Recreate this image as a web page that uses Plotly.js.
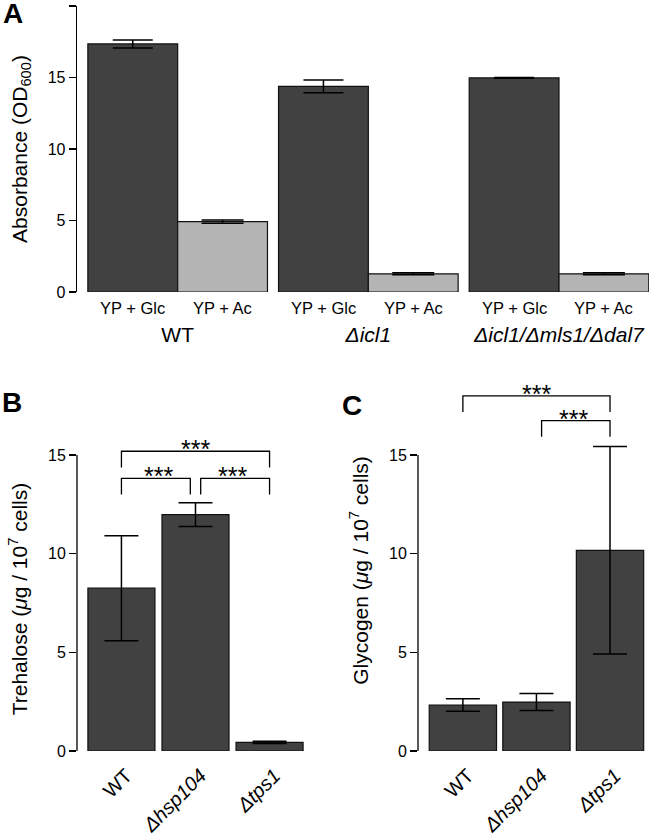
<!DOCTYPE html>
<html><head><meta charset="utf-8">
<script src="https://cdn.plot.ly/plotly-3.0.1.min.js"></script>
<style>html,body{margin:0;padding:0;background:#fff}</style>
</head><body><div id="chart" style="width:649px;height:835px"></div>
<script>
// ---------- Panel A data ----------
const strainsA = ['WT', 'Δicl1', 'Δicl1/Δmls1/Δdal7'];
const strainLabelsA = ['WT', '<i>Δicl1</i>', '<i>Δicl1/Δmls1/Δdal7</i>'];
const mediaA = ['YP + Glc', 'YP + Ac'];
const glcOD = [17.35, 14.38, 14.97];
const glcODErr = [0.28, 0.45, 0.03];
const acOD = [4.92, 1.27, 1.27];
const acODErr = [0.12, 0.07, 0.07];

// ---------- Panels B / C data ----------
const strainsBC = ['WT', 'Δhsp104', 'Δtps1'];
const strainLabelsBC = ['WT', '<i>Δhsp104</i>', '<i>Δtps1</i>'];
const trehalose = [8.25, 11.98, 0.44];
const trehaloseErr = [2.66, 0.60, 0.06];
const glycogen = [2.33, 2.48, 10.17];
const glycogenErr = [0.32, 0.43, 5.26];

// significance brackets: pairs of bar indices, bracket top value, label
const sigPairsB = [[0, 2], [0, 1], [1, 2]];
const sigTopB = [15.19, 13.82, 13.82];
const sigPairsC = [[0, 2], [1, 2]];
const sigTopC = [18.0, 16.74];
const sigLabel = '***';

// ---------- styles ----------
const FONT = 'Liberation Sans, Arial, Helvetica, sans-serif';
const DARK = '#414141', LIGHT = '#b4b4b4';
const idx = a => a.map((_, i) => i);

function bracketTrace(pairs, tops, xa, ya) {
  const drop = 0.82, inset = 0.07, x = [], y = [];
  pairs.forEach((p, k) => {
    let a = p[0], b = p[1];
    if (a === 1) a += inset;
    if (b === 1) b -= inset;
    x.push(a, a, b, b, null);
    y.push(tops[k] - drop, tops[k], tops[k], tops[k] - drop, null);
  });
  return {type: 'scatter', mode: 'lines', x, y, xaxis: xa, yaxis: ya,
    line: {color: 'black', width: 1.3}, hoverinfo: 'skip', showlegend: false};
}
function starAnns(pairs, tops, xa, ya) {
  return pairs.map((p, k) => ({
    x: (p[0] + p[1]) / 2, y: tops[k], xref: xa, yref: ya, text: sigLabel,
    showarrow: false, yanchor: 'bottom', yshift: -14, font: {size: 25, color: 'black', family: FONT}
  }));
}
const errStyle = (arr, w) => ({type: 'data', array: arr, visible: true, color: 'black', thickness: 1.5, width: w});
const barLine = {color: '#111', width: 1.2};

const traces = [
  {type: 'bar', x: idx(strainsA), y: glcOD, width: 0.471, offset: -0.471, name: mediaA[0],
   marker: {color: DARK, line: barLine}, error_y: errStyle(glcODErr, 20), xaxis: 'x', yaxis: 'y'},
  {type: 'bar', x: idx(strainsA), y: acOD, width: 0.471, offset: 0, name: mediaA[1],
   marker: {color: LIGHT, line: barLine}, error_y: errStyle(acODErr, 21), xaxis: 'x', yaxis: 'y'},
  {type: 'bar', x: idx(strainsBC), y: trehalose, width: 0.905, name: 'Trehalose',
   marker: {color: DARK, line: barLine}, error_y: errStyle(trehaloseErr, 17), xaxis: 'x2', yaxis: 'y2'},
  {type: 'bar', x: idx(strainsBC), y: glycogen, width: 0.915, name: 'Glycogen',
   marker: {color: DARK, line: barLine}, error_y: errStyle(glycogenErr, 17), xaxis: 'x3', yaxis: 'y3'},
  bracketTrace(sigPairsB, sigTopB, 'x2', 'y2'),
  bracketTrace(sigPairsC, sigTopC, 'x3', 'y3')
];

const yBase = {
  ticks: 'outside', ticklen: 7, tickwidth: 1.3, tickcolor: 'black',
  showgrid: false, zeroline: false, tickfont: {size: 16, color: 'black', family: FONT}
};
const xBase = {
  ticks: '', showline: false, showgrid: false, zeroline: false,
  tickfont: {size: 21, color: 'black', family: FONT}
};
const xRot = {tickangle: -45, ticklabelshift: 5, ticklabelstandoff: 8,
  tickfont: {size: 20, color: 'black', family: FONT}};

const mediaAnns = [];
strainsA.forEach((s, i) => {
  mediaA.forEach((m, j) => {
    mediaAnns.push({x: i + (j === 0 ? -0.2355 : 0.2355), xref: 'x', y: 0.6311, yref: 'paper',
      text: m, showarrow: false, yanchor: 'middle', font: {size: 16.5, color: 'black', family: FONT}});
  });
});
const letter = (t, x, y) => ({text: '<b>' + t + '</b>', x, y, xref: 'paper', yref: 'paper',
  xanchor: 'center', yanchor: 'middle', showarrow: false, font: {size: 28, color: 'black', family: FONT}});

const layout = {
  width: 649, height: 835, margin: {l: 0, r: 0, t: 0, b: 0},
  paper_bgcolor: 'white', plot_bgcolor: 'rgba(0,0,0,0)', showlegend: false, barmode: 'overlay',
  font: {family: FONT, color: 'black'},
  xaxis: Object.assign({}, xBase, {domain: [0.11864, 1], range: [-0.528, 2.472], anchor: 'y',
    tickvals: idx(strainsA), ticktext: strainLabelsA, ticklabelstandoff: 28}),
  yaxis: Object.assign({}, yBase, {domain: [0.6503, 0.99281], range: [0, 20], anchor: 'x',
    tickvals: [0, 5, 10, 15, 20], showline: true, linewidth: 1.3, linecolor: 'black',
    title: {text: 'Absorbance (OD<sub>600</sub>)', font: {size: 21, family: FONT, color: 'black'}, standoff: 14}}),
  xaxis2: Object.assign({}, xBase, xRot, {domain: [0.11864, 0.48382], range: [-0.6, 2.6], anchor: 'y2',
    tickvals: idx(strainsBC), ticktext: strainLabelsBC}),
  yaxis2: Object.assign({}, yBase, {domain: [0.10060, 0.46455], range: [0, 15.4], anchor: 'x2',
    tickvals: [0, 5, 10, 15], showline: false,
    title: {text: 'Trehalose (<i>μ</i>g / 10<sup>7</sup> cells)', font: {size: 21, family: FONT, color: 'black'}, standoff: 14}}),
  xaxis3: Object.assign({}, xBase, xRot, {domain: [0.64407, 1], range: [-0.61, 2.53], anchor: 'y3',
    tickvals: idx(strainsBC), ticktext: strainLabelsBC}),
  yaxis3: Object.assign({}, yBase, {domain: [0.10060, 0.53305], range: [0, 18.3], anchor: 'x3',
    tickvals: [0, 5, 10, 15], showline: false,
    title: {text: 'Glycogen (<i>μ</i>g / 10<sup>7</sup> cells)', font: {size: 21, family: FONT, color: 'black'}, standoff: 14}}),
  shapes: [
    {type: 'line', xref: 'paper', x0: 0.11864, x1: 0.11864, yref: 'y2', y0: 0, y1: 15, line: {color: 'black', width: 1.3}},
    {type: 'line', xref: 'paper', x0: 0.64407, x1: 0.64407, yref: 'y3', y0: 0, y1: 15, line: {color: 'black', width: 1.3}}
  ],
  annotations: mediaAnns
    .concat(starAnns(sigPairsB, sigTopB, 'x2', 'y2'))
    .concat(starAnns(sigPairsC, sigTopC, 'x3', 'y3'))
    .concat([letter('A', 0.0205, 0.98443), letter('B', 0.0185, 0.51737), letter('C', 0.5424, 0.51497)])
};

Plotly.newPlot('chart', traces, layout, {staticPlot: true, displayModeBar: false});
</script>
</body></html>
